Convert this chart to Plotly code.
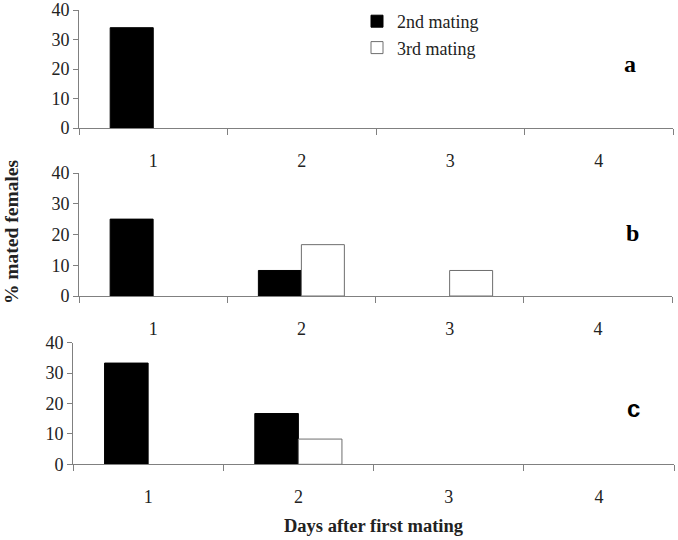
import plotly.graph_objects as go

W, H = 678, 540

days = ["1", "2", "3", "4"]
# % mated females per panel
second_a = [34.0, 0, 0, 0]
third_a = [0, 0, 0, 0]
second_b = [25.0, 8.3, 0, 0]
third_b = [0, 16.7, 8.3, 0]
second_c = [33.3, 16.7, 0, 0]
third_c = [0, 8.3, 0, 0]
y_ticks = [0, 10, 20, 30, 40]
panel_labels = ["a", "b", "c"]

def px_x(x):
    return x / W

def px_y(y):
    return 1 - y / H

def nz(v):
    return [None if a == 0 else a for a in v]

# pixel geometry of panels: (left, right, top, bottom)
panels = [(79, 673, 10, 128), (79, 672, 173, 296), (73, 674, 342.7, 464.3)]

fig = go.Figure()
serif = "Liberation Serif, Times New Roman, serif"
series = [(second_a, third_a), (second_b, third_b), (second_c, third_c)]
for i, (s2, s3) in enumerate(series):
    ax = "" if i == 0 else str(i + 1)
    fig.add_trace(go.Bar(x=days, y=nz(s2), name="2nd mating", xaxis="x" + ax, yaxis="y" + ax,
                         marker=dict(color="black", line=dict(color="black", width=1)),
                         showlegend=(i == 0), legendgroup="m2"))
    fig.add_trace(go.Bar(x=days, y=nz(s3), name="3rd mating", xaxis="x" + ax, yaxis="y" + ax,
                         marker=dict(color="white", line=dict(color="#6e6e6e", width=1)),
                         showlegend=(i == 0), legendgroup="m3"))

layout = dict(
    width=W, height=H,
    margin=dict(l=0, r=0, t=0, b=0, autoexpand=False),
    paper_bgcolor="white", plot_bgcolor="white",
    barmode="group", bargap=0.42, bargroupgap=0,
    font=dict(family=serif, size=18, color="#222222"),
    showlegend=True,
    legend=dict(x=px_x(357), y=px_y(3), xanchor="left", yanchor="top",
                font=dict(family=serif, size=18, color="#222222"),
                bgcolor="rgba(0,0,0,0)", itemwidth=30, traceorder="normal"),
)
for i, (l, r, t, b) in enumerate(panels):
    ax = "" if i == 0 else str(i + 1)
    layout["xaxis" + ax] = dict(domain=[px_x(l), px_x(r)], anchor="y" + ax, type="category",
                                tickson="boundaries", ticks="outside", ticklen=6, tickcolor="#808080",
                                showline=True, linecolor="#808080", linewidth=1, showgrid=False,
                                zeroline=False, ticklabelstandoff=16, automargin=False,
                                ticklabeloverflow="allow",
                                tickfont=dict(family=serif, size=18, color="#222222"))
    layout["yaxis" + ax] = dict(domain=[px_y(b), px_y(t)], anchor="x" + ax, range=[0, 40],
                                tickvals=y_ticks, ticks="outside", ticklen=5, tickcolor="#808080",
                                showline=True, linecolor="#808080", linewidth=1, showgrid=False,
                                zeroline=False, automargin=False, ticklabeloverflow="allow",
                                tickfont=dict(family=serif, size=18, color="#222222"))
fig.update_layout(**layout)

letter_pos = [(630, 64, serif), (632, 233, serif), (633, 408, "Liberation Sans, Arial, sans-serif")]
for lab, (x, y, fam) in zip(panel_labels, letter_pos):
    fig.add_annotation(text="<b>" + lab + "</b>", x=px_x(x), y=px_y(y), xref="paper", yref="paper",
                       showarrow=False, xanchor="center", yanchor="middle",
                       font=dict(family=fam, size=24, color="black"))

fig.add_annotation(text="<b>% mated females</b>", x=px_x(12), y=px_y(232), xref="paper", yref="paper",
                   showarrow=False, textangle=-90, xanchor="center", yanchor="middle",
                   font=dict(family=serif, size=19.5, color="#222222"))
fig.add_annotation(text="<b>Days after first mating</b>", x=px_x(374), y=px_y(526), xref="paper", yref="paper",
                   showarrow=False, xanchor="center", yanchor="middle",
                   font=dict(family=serif, size=18.5, color="#222222"))

fig.write_html("out.html", config={"displayModeBar": False},
               post_script="document.body.style.margin='0px';document.body.style.padding='0px';")
